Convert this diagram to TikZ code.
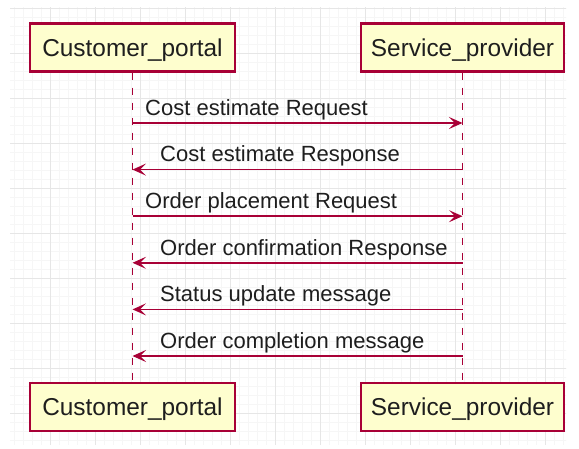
\documentclass[tikz,border=0pt]{standalone}
\usepackage{fontspec}
\setmainfont{Liberation Sans}
\usetikzlibrary{arrows.meta}
\definecolor{pred}{HTML}{A80036}
\definecolor{pfill}{HTML}{FEFECE}
\definecolor{gmaj}{HTML}{E6E6E6}
\definecolor{gmin}{HTML}{F6F6F6}
\definecolor{ptext}{HTML}{1E1E1E}
\begin{document}
\begin{tikzpicture}[x=1pt,y=-1pt,
  part/.style={draw=pred, fill=pfill, line width=2.2pt, minimum height=48pt, inner sep=0pt, text height=17.5pt, text depth=0pt, text=ptext, font=\fontsize{24.4}{28}\selectfont},
  life/.style={draw=pred, line width=1.5pt, dash pattern=on 7.5pt off 7.5pt},
  msg/.style={draw=pred, line width=1.6pt, -{Stealth[length=13.5pt,width=12pt,inset=6pt]}},
  lbl/.style={anchor=base west, inner sep=0pt, text=ptext, font=\fontsize{22}{26}\selectfont}]
\useasboundingbox[fill=white] (0,0) rectangle (579,449);
\begin{scope}
\clip (10,8) rectangle (566,444);
\foreach \x in {14,23,32,41,59,68,77,86,104,113,122,131,149,158,167,176,194,203,212,221,239,248,257,266,284,293,302,311,329,338,347,356,374,383,392,401,419,428,437,446,464,473,482,491,509,518,527,536,554,563}
  \draw[gmin, line width=0.5pt] (\x,0) -- (\x,449);
\foreach \y in {17,26,35,44,62,71,80,89,107,116,125,134,152,161,170,179,197,206,215,224,242,251,260,269,287,296,305,314,332,341,350,359,377,386,395,404,422,431,440}
  \draw[gmin, line width=0.5pt] (0,\y) -- (579,\y);
\foreach \x in {50,95,...,545}
  \draw[gmaj, line width=0.8pt] (\x,0) -- (\x,449);
\foreach \y in {8,53,...,413}
  \draw[gmaj, line width=0.8pt] (0,\y) -- (579,\y);
\end{scope}

\node[part, minimum width=205pt] (cpT) at (132.5,47.5) {Customer\_portal};
\node[part, minimum width=203pt] (spT) at (462.5,47.5) {Service\_provider};
\node[part, minimum width=205pt] (cpB) at (132.5,407) {Customer\_portal};
\node[part, minimum width=203pt] (spB) at (462.5,407) {Service\_provider};

\draw[life] (cpT.south) -- (cpB.north);
\draw[life] (spT.south) -- (spB.north);

\coordinate (c1) at (132.5,123);   \coordinate (s1) at (462.5,123);
\coordinate (c2) at (132.5,169.6); \coordinate (s2) at (462.5,169.6);
\coordinate (c3) at (132.5,216.2); \coordinate (s3) at (462.5,216.2);
\coordinate (c4) at (132.5,262.8); \coordinate (s4) at (462.5,262.8);
\coordinate (c5) at (132.5,309.4); \coordinate (s5) at (462.5,309.4);
\coordinate (c6) at (132.5,356);   \coordinate (s6) at (462.5,356);

\draw[msg] (c1) -- (s1);
\draw[msg] (s2) -- (c2);
\draw[msg] (c3) -- (s3);
\draw[msg] (s4) -- (c4);
\draw[msg] (s5) -- (c5);
\draw[msg] (s6) -- (c6);

\node[lbl] (l1) at (145,116) {Cost estimate Request};
\node[lbl] (l2) at (160,162) {Cost estimate Response};
\node[lbl] (l3) at (145,209) {Order placement Request};
\node[lbl] (l4) at (160,255.5) {Order confirmation Response};
\node[lbl] (l5) at (160,302) {Status update message};
\node[lbl] (l6) at (160,348.5) {Order completion message};
\end{tikzpicture}
\end{document}
